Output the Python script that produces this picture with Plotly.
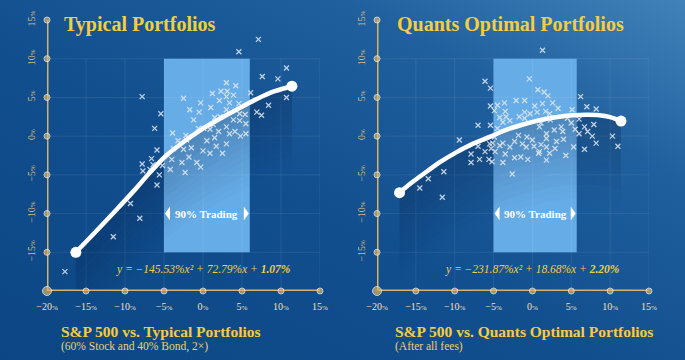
import base64
import plotly.graph_objects as go

W, H = 685, 360

# ---------------- data ----------------
x_ticks = [-20, -15, -10, -5, 0, 5, 10, 15]
y_ticks = [-20, -15, -10, -5, 0, 5, 10, 15]
grid_top = 10

typ_x = [-7.8, 4.6, 7.1, 7.6, 9.6, 10.7, 10.7, 8.4, 6.9, 7.5, 6.1, 5.5, 5.4, 4.7, 4.7, 4.2, 4.6, 3.9, 3.9,
         3.0, 3.1, 2.3, 3.0, 3.4, 2.1, 1.2, 1.0, 3.0, 2.2, 1.5, 3.0, 3.4, 4.1, 4.8, 1.3, 0.9, 0.1, -0.6,
         -1.2, -0.5, -1.7, -0.3, -2.5, -2.2, -3.9, -3.2, -3.8, -2.5, -1.5, -1.9, -1.8, -2.7, -2.3, -0.8,
         -0.3, 0.0, 0.9, 0.5, 1.5, 1.7, 2.5, 3.0, 2.0, -5.4, -6.2, -5.9, -6.6, -7.8, -7.7, -6.4, -5.2,
         -5.6, -4.2, -6.8, -5.9, -9.3, -8.1, -11.5, -17.7, -4.0, 5.5, -2.1]
typ_y = [5.1, 10.9, 12.5, 7.7, 7.4, 8.8, 5.0, 4.0, 3.1, 2.7, 5.6, 1.6, 2.8, 2.9, 2.0, 6.5, 4.2, 5.3, 2.1,
         6.9, 5.8, 5.8, 5.1, 4.3, 4.6, 5.5, 3.7, 3.4, 2.5, 2.4, 1.2, 0.3, 0.6, 0.0, 1.5, 0.9, 1.0, 1.0,
         2.1, 3.1, 3.4, 4.3, 4.9, 0.1, 0.4, -0.6, -1.6, -1.7, -1.5, -0.1, -2.7, -3.4, -4.7, -3.4,
         -4.0, -1.9, -2.2, -0.6, -0.2, -1.3, -2.2, -1.0, 0.6, 2.9, 1.0, -1.8, -2.9, -3.6, -4.5, -3.7, -3.8,
         -5.0, -4.3, -4.3, -6.3, -8.7, -10.6, -13.0, -17.5, -3.0, 0.3, -0.5]
typ_curve_x = [-16.3, -14.1, -11.1, -8.9, -6.8, -4.7, -2.5, -0.5, 0.7, 2.8, 5.0, 7.1, 9.2, 11.4]
typ_curve_y = [-15.0, -12.7, -9.5, -7.1, -4.7, -2.5, -0.75, 0.65, 1.4, 2.6, 3.8, 4.9, 5.8, 6.45]
typ_band = [-5.0, 6.0]

qnt_x = [1.3, -6.1, -5.4, -0.4, 0.7, 1.5, 2.0, 6.2, 7.0, 8.2, 5.1, 2.6, 3.3, 1.7, 2.2, 0.3, 0.6, -1.0,
         -2.1, -3.6, -4.5, -5.4, -4.9, -3.5, -4.2, -3.4, -2.9, -3.8, -1.7, -1.0, -0.3, 0.9, 2.3, 3.7,
         4.5, 5.0, 5.5, 6.0, 6.0, 6.7, 7.1, 7.9, 7.7, 8.2, 6.7, 5.3, 4.3, 10.3, 11.0, 2.9, 3.1, 4.0,
         3.9, 2.8, 1.8, 1.8, 1.1, 1.8, 0.8, 2.2, 1.8, 0.0, 0.2, -0.7, -1.3, -0.8, -1.8, -2.3, -2.9,
         -3.5, -3.8, -2.6, -2.3, -1.5, -0.6, -4.2, -4.8, -5.1, -4.9, -5.4, -7.0, -9.4, -7.0, -6.1,
         -5.5, -7.9, -7.9, -6.8, -5.6, -5.2, -11.4, -13.4, -14.5, -11.6, 1.3, -1.0, 1.1, -4.5, 0.9,
         -3.8, -5.3]
qnt_y = [11.1, 7.1, 6.2, 7.4, 6.0, 5.7, 5.2, 5.1, 3.8, 3.5, 3.4, 4.3, 3.6, 3.2, 2.9, 3.9, 3.1, 4.6,
         4.6, 4.3, 4.0, 3.9, 3.3, 3.2, 2.4, 2.5, 2.0, 1.8, 2.5, 2.3, 2.9, 1.2, 2.1, 1.2,
         2.3, 1.7, 0.9, 0.3, 2.2, 1.2, 0.6, 1.5, 0.0, -0.9, -1.7, -1.4, -2.5, 0.0, -1.3, -1.6, -0.7, -0.4,
         0.6, 0.8, 0.3, -0.3, -1.1, -1.4, -2.2, -2.2, -3.1, -0.5, -1.3, -0.1, -1.0, -1.4, 0.1, -0.7, -1.4,
         -2.3, -3.4, -4.9, -2.8, -2.7, -3.0, -1.2, -2.0, -0.9, -0.1, 1.4, 1.4, -0.5, -1.3, -2.0,
         -1.0, -2.3, -3.4, -3.0, -3.0, -3.3, -4.6, -5.5, -6.7, -7.9, 4.2, 3.1, 1.7, 1.0, -2.0,
         -0.9, -1.6]
qnt_curve_x = [-17.1, -15.4, -13.5, -11.8, -9.8, -7.7, -5.5, -3.4, -1.2, 0.9, 3.0, 5.2, 7.0, 8.6, 10.0, 11.4]
qnt_curve_y = [-7.3, -5.9, -4.5, -3.3, -2.1, -1.0, -0.1, 0.8, 1.5, 2.05, 2.45, 2.7, 2.75, 2.7, 2.45, 1.95]
qnt_band = [-5.0, 5.7]

band_y = [-15, 10]
trading_label_y = -10
equation_y = -17.2

typ_title = "Typical Portfolios"
qnt_title = "Quants Optimal Portfolios"
typ_sub = "S&P 500 vs. Typical Portfolios"
qnt_sub = "S&P 500 vs. Quants Optimal Portfolios"
typ_note = "(60% Stock and 40% Bond, 2×)"
qnt_note = "(After all fees)"
typ_eq = "y = −145.53%x² + 72.79%x + <b>1.07%</b>"
qnt_eq = "y = −231.87%x² + 18.68%x + <b>2.20%</b>"

# ---------------- style ----------------
SERIF = "Liberation Serif, Times New Roman, serif"
GOLD = "#d8b266"
YELLOW = "#f5cd3f"
BAND = "#66ace6"
SHADE_STEPS = 12       # bands of the fading shadow under the curve
SHADE_STEP = 0.9       # % per band
SHADE_ALPHA = 0.26

def fmt(v):
    s = ("−" if v < 0 else "") + str(abs(v))
    return s + "<span style='font-size:7px'>%</span>"

svg = ('<svg xmlns="http://www.w3.org/2000/svg" width="685" height="360">'
       '<defs><linearGradient id="g" x1="0" y1="1" x2="1" y2="0">'
       '<stop offset="0" stop-color="#0c4684"/><stop offset="0.45" stop-color="#124f8f"/>'
       '<stop offset="0.75" stop-color="#20609e"/><stop offset="1" stop-color="#4282ba"/>'
       '</linearGradient></defs><rect width="685" height="360" fill="url(#g)"/></svg>')
bg_src = "data:image/svg+xml;base64," + base64.b64encode(svg.encode()).decode()

fig = go.Figure()

dom_y = [69 / H, 340 / H]
panels = [
    dict(xa="x", ya="y", xd=[47 / W, 320 / W], px=typ_x, py=typ_y, cx=typ_curve_x, cy=typ_curve_y,
         band=typ_band, title=typ_title, sub=typ_sub, note=typ_note, eq=typ_eq, tx=62, sx=59),
    dict(xa="x2", ya="y2", xd=[377 / W, 649 / W], px=qnt_x, py=qnt_y, cx=qnt_curve_x, cy=qnt_curve_y,
         band=qnt_band, title=qnt_title, sub=qnt_sub, note=qnt_note, eq=qnt_eq, tx=395, sx=393),
]

shapes = []
annotations = []
for i, p in enumerate(panels):
    xa, ya = p["xa"], p["ya"]
    # grid
    gx, gy = [], []
    for t in x_ticks[1:]:
        gx += [t, t, None]
        gy += [y_ticks[0], grid_top, None]
    for t in [v for v in y_ticks[1:] if v <= grid_top]:
        gx += [x_ticks[0], x_ticks[-1], None]
        gy += [t, t, None]
    fig.add_trace(go.Scatter(x=gx, y=gy, mode="lines", xaxis=xa, yaxis=ya,
                             line=dict(color="rgba(255,255,255,0.08)", width=1),
                             hoverinfo="skip", showlegend=False))
    # fading shadow under the curve (stacked bands following the curve)
    fig.add_trace(go.Scatter(x=p["cx"], y=p["cy"], mode="lines", xaxis=xa, yaxis=ya,
                             line=dict(width=0, shape="spline"), hoverinfo="skip", showlegend=False))
    for k in range(1, SHADE_STEPS + 1):
        a = SHADE_ALPHA * (1 - (k - 0.5) / SHADE_STEPS)
        fig.add_trace(go.Scatter(x=p["cx"], y=[v - k * SHADE_STEP for v in p["cy"]], mode="lines",
                                 xaxis=xa, yaxis=ya, line=dict(width=0, shape="spline"),
                                 fill="tonexty", fillcolor=f"rgba(5,25,60,{a:.3f})",
                                 hoverinfo="skip", showlegend=False))
    # scatter points
    fig.add_trace(go.Scatter(x=p["px"], y=p["py"], mode="markers", xaxis=xa, yaxis=ya,
                             marker=dict(symbol="x-thin", size=5,
                                         line=dict(width=1.3, color="rgba(222,232,244,0.85)")),
                             hoverinfo="skip", showlegend=False))
    # trend curve
    fig.add_trace(go.Scatter(x=p["cx"], y=p["cy"], mode="lines", xaxis=xa, yaxis=ya,
                             line=dict(color="white", width=4.5, shape="spline"),
                             hoverinfo="skip", showlegend=False))
    fig.add_trace(go.Scatter(x=[p["cx"][0], p["cx"][-1]], y=[p["cy"][0], p["cy"][-1]], mode="markers",
                             xaxis=xa, yaxis=ya, marker=dict(color="white", size=11),
                             cliponaxis=False, hoverinfo="skip", showlegend=False))
    # axes with dots
    ax_x = [x_ticks[0]] * len(y_ticks) + x_ticks[1:]
    ax_y = y_ticks[::-1] + [y_ticks[0]] * (len(x_ticks) - 1)
    sizes = [9 if (a == x_ticks[0] and b == y_ticks[0]) else 6 for a, b in zip(ax_x, ax_y)]
    fig.add_trace(go.Scatter(x=ax_x, y=ax_y, mode="lines+markers", xaxis=xa, yaxis=ya,
                             line=dict(color=GOLD, width=3), marker=dict(color=GOLD, size=sizes),
                             cliponaxis=False, hoverinfo="skip", showlegend=False))
    # band
    shapes.append(dict(type="rect", xref=xa, yref=ya, x0=p["band"][0], x1=p["band"][1],
                       y0=band_y[0], y1=band_y[1], fillcolor=BAND, line=dict(width=0), layer="below"))
    shapes.append(dict(type="path", xref=xa, yref=ya, xsizemode="pixel", ysizemode="pixel",
                       xanchor=p["band"][0], yanchor=trading_label_y,
                       path="M 6 -7 L 6 7 L 1 0 Z", fillcolor="white", line=dict(width=0)))
    shapes.append(dict(type="path", xref=xa, yref=ya, xsizemode="pixel", ysizemode="pixel",
                       xanchor=p["band"][1], yanchor=trading_label_y,
                       path="M -6 -7 L -6 7 L -1 0 Z", fillcolor="white", line=dict(width=0)))
    annotations.append(dict(xref=xa, yref=ya, x=sum(p["band"]) / 2, y=trading_label_y,
                            text="<b>90% Trading</b>", showarrow=False,
                            font=dict(family=SERIF, size=11, color="white")))
    annotations.append(dict(xref=xa, yref=ya, x=0, y=equation_y, text="<i>" + p["eq"] + "</i>",
                            showarrow=False, font=dict(family=SERIF, size=11.5, color=YELLOW)))
    annotations.append(dict(xref="paper", yref="paper", x=p["tx"] / W, y=(H - 24.5) / H,
                            xanchor="left", yanchor="middle", text="<b>" + p["title"] + "</b>",
                            showarrow=False, font=dict(family=SERIF, size=20, color=YELLOW)))
    annotations.append(dict(xref="paper", yref="paper", x=p["sx"] / W, y=(H - 331) / H,
                            xanchor="left", yanchor="middle", text="<b>" + p["sub"] + "</b>",
                            showarrow=False, font=dict(family=SERIF, size=15.5, color=YELLOW)))
    annotations.append(dict(xref="paper", yref="paper", x=p["sx"] / W, y=(H - 346.5) / H,
                            xanchor="left", yanchor="middle", text=p["note"],
                            showarrow=False, font=dict(family=SERIF, size=11.5, color="#f1d06a")))

    sfx = "" if i == 0 else "2"
    fig.layout["xaxis" + sfx] = dict(domain=p["xd"], range=[x_ticks[0], x_ticks[-1]], showgrid=False,
                                     zeroline=False, showline=False, tickmode="array", tickvals=x_ticks,
                                     ticktext=[fmt(v) for v in x_ticks], ticks="", ticklabelstandoff=8,
                                     tickfont=dict(family=SERIF, size=10, color="#ece0c4"),
                                     anchor="y" + sfx, fixedrange=True, automargin=False)
    fig.layout["yaxis" + sfx] = dict(domain=dom_y, range=[y_ticks[0], y_ticks[-1]], showgrid=False,
                                     zeroline=False, showline=False, tickmode="array", tickvals=y_ticks[1:],
                                     ticktext=[fmt(v) for v in y_ticks[1:]], ticks="", tickangle=-90,
                                     ticklabelstandoff=9,
                                     tickfont=dict(family=SERIF, size=10, color="#d9bc78"),
                                     anchor="x" + sfx, fixedrange=True, automargin=False)

fig.update_layout(
    width=W, height=H, margin=dict(l=0, r=0, t=0, b=0, pad=0, autoexpand=False),
    paper_bgcolor="#145392", plot_bgcolor="rgba(0,0,0,0)",
    shapes=shapes, annotations=annotations, showlegend=False, hovermode=False,
    images=[dict(source=bg_src, xref="paper", yref="paper", x=0, y=1, sizex=1, sizey=1,
                 xanchor="left", yanchor="top", sizing="stretch", layer="below")],
)

fig.write_html("out.html", config={"displayModeBar": False, "staticPlot": True},
               post_script="document.body.style.margin='0';document.body.style.background='#145392';")
